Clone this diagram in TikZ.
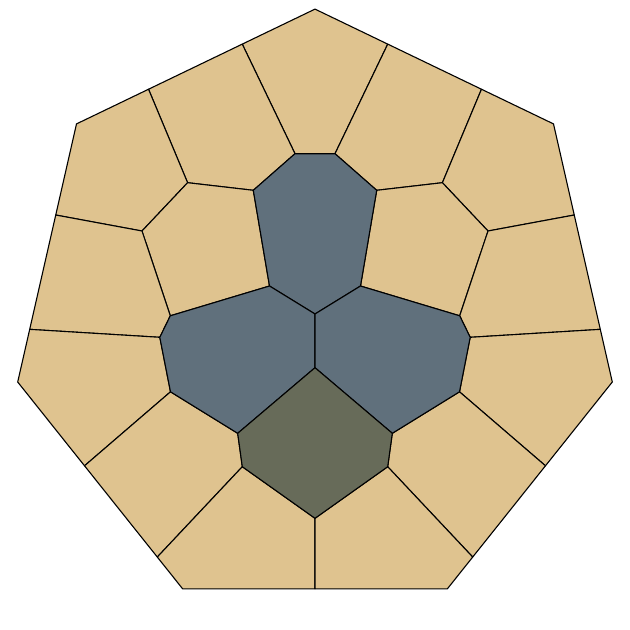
\documentclass[tikz,border=0pt]{standalone}
\usetikzlibrary{calc}
\definecolor{tan}{RGB}{223,195,143}
\definecolor{slate}{RGB}{96,112,124}
\definecolor{olive}{RGB}{103,107,89}
\begin{document}
\begin{tikzpicture}[x=1pt,y=-1pt,
  cell/.style={draw=black,line width=1.1pt,line join=round},
  tancell/.style={cell,fill=tan},
  bluecell/.style={cell,fill=slate},
  greencell/.style={cell,fill=olive}]
\useasboundingbox (0,0) rectangle (630,630);
% heptagon vertices
\coordinate (T) at (315,9.1);
\coordinate (V1L) at (76.5,123.9);
\coordinate (V2L) at (17.7,382);
\coordinate (V3L) at (182.7,588.9);
\coordinate (V1R) at (553.5,123.9);
\coordinate (V2R) at (612.3,382);
\coordinate (V3R) at (447.3,588.9);
% boundary points
\coordinate (e1L) at ($(T)!0.305!(V1L)$);
\coordinate (e2L) at ($(T)!0.698!(V1L)$);
\coordinate (e3L) at ($(V1L)!0.353!(V2L)$);
\coordinate (e4L) at ($(V1L)!0.796!(V2L)$);
\coordinate (e5L) at ($(V2L)!0.405!(V3L)$);
\coordinate (e6L) at ($(V2L)!0.846!(V3L)$);
\coordinate (e1R) at ($(T)!0.305!(V1R)$);
\coordinate (e2R) at ($(T)!0.698!(V1R)$);
\coordinate (e3R) at ($(V1R)!0.353!(V2R)$);
\coordinate (e4R) at ($(V1R)!0.796!(V2R)$);
\coordinate (e5R) at ($(V2R)!0.405!(V3R)$);
\coordinate (e6R) at ($(V2R)!0.846!(V3R)$);
\coordinate (e7) at (315,588.9);
% inner points
\coordinate (aL) at (295,153.7);   \coordinate (aR) at (335,153.7);
\coordinate (bL) at (187.6,182.7); \coordinate (bR) at (442.4,182.7);
\coordinate (cL) at (253.3,190.3); \coordinate (cR) at (376.7,190.3);
\coordinate (dL) at (142,231);     \coordinate (dR) at (488,231);
\coordinate (fL) at (269.5,286);   \coordinate (fR) at (360.5,286);
\coordinate (gL) at (170.3,315.8); \coordinate (gR) at (459.7,315.8);
\coordinate (hL) at (159.8,337.3); \coordinate (hR) at (470.2,337.3);
\coordinate (iL) at (170.5,391.8); \coordinate (iR) at (459.5,391.8);
\coordinate (jL) at (237.7,433.3); \coordinate (jR) at (392.3,433.3);
\coordinate (kL) at (242.3,466.7); \coordinate (kR) at (387.7,466.7);
\coordinate (O) at (315,314);
\coordinate (m) at (315,367.7);
\coordinate (n) at (315,518.3);
% tan cells
\path[tancell] (T) -- (e1R) -- (aR) -- (aL) -- (e1L) -- cycle;
\path[tancell] (e1L) -- (aL) -- (cL) -- (bL) -- (e2L) -- cycle;
\path[tancell] (e2L) -- (bL) -- (dL) -- (e3L) -- (V1L) -- cycle;
\path[tancell] (bL) -- (cL) -- (fL) -- (gL) -- (dL) -- cycle;
\path[tancell] (e3L) -- (dL) -- (gL) -- (hL) -- (e4L) -- cycle;
\path[tancell] (e4L) -- (hL) -- (iL) -- (e5L) -- (V2L) -- cycle;
\path[tancell] (e5L) -- (iL) -- (jL) -- (kL) -- (e6L) -- cycle;
\path[tancell] (e6L) -- (kL) -- (n) -- (e7) -- (V3L) -- cycle;
\path[tancell] (e1R) -- (aR) -- (cR) -- (bR) -- (e2R) -- cycle;
\path[tancell] (e2R) -- (bR) -- (dR) -- (e3R) -- (V1R) -- cycle;
\path[tancell] (bR) -- (cR) -- (fR) -- (gR) -- (dR) -- cycle;
\path[tancell] (e3R) -- (dR) -- (gR) -- (hR) -- (e4R) -- cycle;
\path[tancell] (e4R) -- (hR) -- (iR) -- (e5R) -- (V2R) -- cycle;
\path[tancell] (e5R) -- (iR) -- (jR) -- (kR) -- (e6R) -- cycle;
\path[tancell] (e6R) -- (kR) -- (n) -- (e7) -- (V3R) -- cycle;
% blue cells
\path[bluecell] (aL) -- (aR) -- (cR) -- (fR) -- (O) -- (fL) -- (cL) -- cycle;
\path[bluecell] (fL) -- (gL) -- (hL) -- (iL) -- (jL) -- (m) -- (O) -- cycle;
\path[bluecell] (fR) -- (gR) -- (hR) -- (iR) -- (jR) -- (m) -- (O) -- cycle;
% green cell
\path[greencell] (m) -- (jL) -- (kL) -- (n) -- (kR) -- (jR) -- cycle;
\end{tikzpicture}
\end{document}
